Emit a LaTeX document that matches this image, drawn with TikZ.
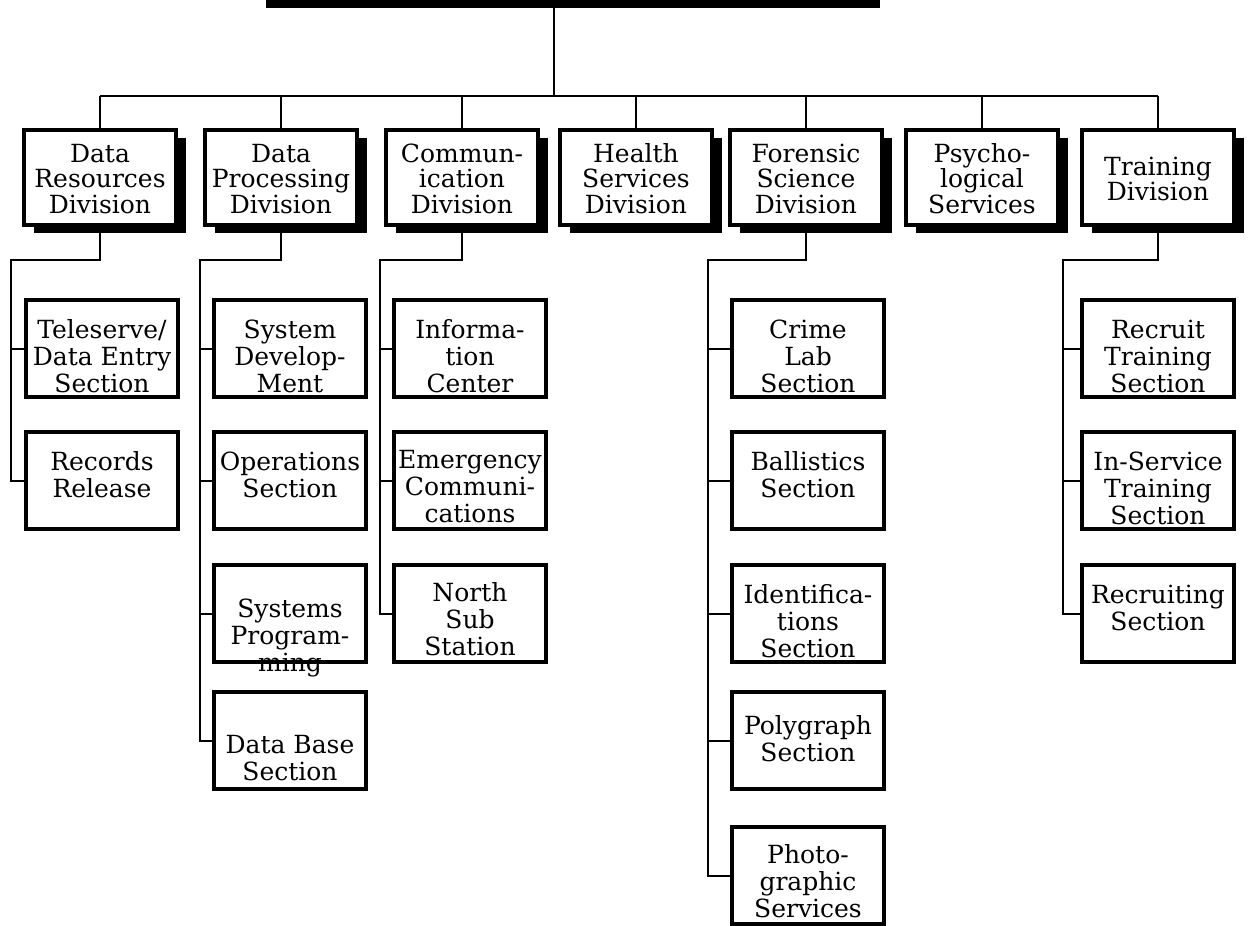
\documentclass[tikz,border=0pt]{standalone}
\usepackage{fontspec}
\setmainfont{DejaVu Serif}
\usetikzlibrary{shadows}
\newcommand{\boxtxt}[3]{\parbox[c][#1][t]{76pt}{\centering\rule{0pt}{#2}#3}}

\begin{document}
\begin{tikzpicture}[x=0.5pt,y=-0.5pt,
	division/.style={draw,line width=1.7pt,fill=white,inner sep=0pt,font=\fontsize{12.5}{12.8}\selectfont,
		drop shadow={shadow xshift=5pt,shadow yshift=-4pt,opacity=1,fill=black}},
	sectbox/.style={draw,line width=1.7pt,inner sep=0pt,font=\fontsize{12.5}{13.5}\selectfont},
	link/.style={line width=1pt}]
	\useasboundingbox (0,0) rectangle (1248,926);
	% bottom edge of the head box, cut off by the page
	\node[fill=black,minimum width=307pt,minimum height=4pt,inner sep=0pt] (chief) at (573,4) {};
	\coordinate (bus) at (554,96);
	% divisions
	\node[division] (d1) at (100,177.5)  {\boxtxt{47.5pt}{16pt}{Data\\Resources\\Division}};
	\node[division] (d2) at (281,177.5)  {\boxtxt{47.5pt}{16pt}{Data\\Processing\\Division}};
	\node[division] (d3) at (462,177.5)  {\boxtxt{47.5pt}{16pt}{Commun-\\ication\\Division}};
	\node[division] (d4) at (636,177.5)  {\boxtxt{47.5pt}{16pt}{Health\\Services\\Division}};
	\node[division] (d5) at (806,177.5)  {\boxtxt{47.5pt}{16pt}{Forensic\\Science\\Division}};
	\node[division] (d6) at (982,177.5)  {\boxtxt{47.5pt}{16pt}{Psycho-\\logical\\Services}};
	\node[division] (d7) at (1158,177.5) {\boxtxt{47.5pt}{22.5pt}{Training\\Division}};
	\draw[link] (bus |- chief.south) -- (bus);
	\draw[link] (d1.north |- bus) -- (d7.north |- bus);
	\foreach \i in {1,...,7} \draw[link] (d\i.north |- bus) -- (d\i.north);
	% sections
	\node[sectbox] (s11) at (102,348.5)  {\boxtxt{48.5pt}{19pt}{Teleserve/\\Data Entry\\Section}};
	\node[sectbox] (s12) at (102,480.5)  {\boxtxt{48.5pt}{19pt}{Records\\Release}};
	\node[sectbox] (s21) at (290,348.5)  {\boxtxt{48.5pt}{19pt}{System\\Develop-\\Ment}};
	\node[sectbox] (s22) at (290,480.5)  {\boxtxt{48.5pt}{19pt}{Operations\\Section}};
	\node[sectbox] (s23) at (290,613.5)  {\boxtxt{48.5pt}{26pt}{Systems\\Program-\\ming}};
	\node[sectbox] (s24) at (290,740.5)  {\boxtxt{48.5pt}{30.5pt}{Data Base\\Section}};
	\node[sectbox] (s31) at (470,348.5)  {\boxtxt{48.5pt}{19pt}{Informa-\\tion\\Center}};
	\node[sectbox] (s32) at (470,480.5)  {\boxtxt{48.5pt}{18pt}{Emergency\\Communi-\\cations}};
	\node[sectbox] (s33) at (470,613.5)  {\boxtxt{48.5pt}{18pt}{North\\Sub\\Station}};
	\node[sectbox] (s51) at (808,348.5)  {\boxtxt{48.5pt}{19pt}{Crime\\Lab\\Section}};
	\node[sectbox] (s52) at (808,480.5)  {\boxtxt{48.5pt}{19pt}{Ballistics\\Section}};
	\node[sectbox] (s53) at (808,613.5)  {\boxtxt{48.5pt}{19pt}{Identifica-\\tions\\Section}};
	\node[sectbox] (s54) at (808,740.5)  {\boxtxt{48.5pt}{21pt}{Polygraph\\Section}};
	\node[sectbox] (s55) at (808,875.5)  {\boxtxt{48.5pt}{18pt}{Photo-\\graphic\\Services}};
	\node[sectbox] (s71) at (1158,348.5) {\boxtxt{48.5pt}{19pt}{Recruit\\Training\\Section}};
	\node[sectbox] (s72) at (1158,480.5) {\boxtxt{48.5pt}{19pt}{In-Service\\Training\\Section}};
	\node[sectbox] (s73) at (1158,613.5) {\boxtxt{48.5pt}{19pt}{Recruiting\\Section}};
	% trunks
	\coordinate (j1) at (11,260);
	\coordinate (j2) at (200,260);
	\coordinate (j3) at (380,260);
	\coordinate (j5) at (708,260);
	\coordinate (j7) at (1063,260);
	\draw[link] (d1.south) |- (j1) |- (s12.west);
	\draw[link] (d2.south) |- (j2) |- (s24.west);
	\draw[link] (d3.south) |- (j3) |- (s33.west);
	\draw[link] (d5.south) |- (j5) |- (s55.west);
	\draw[link] (d7.south) |- (j7) |- (s73.west);
	\foreach \s in {11,21,22,23,31,32,51,52,53,54,71,72} {
		\pgfmathtruncatemacro{\c}{\s/10}
		\draw[link] (j\c |- s\s.west) -- (s\s.west);
	}
\end{tikzpicture}
\end{document}
